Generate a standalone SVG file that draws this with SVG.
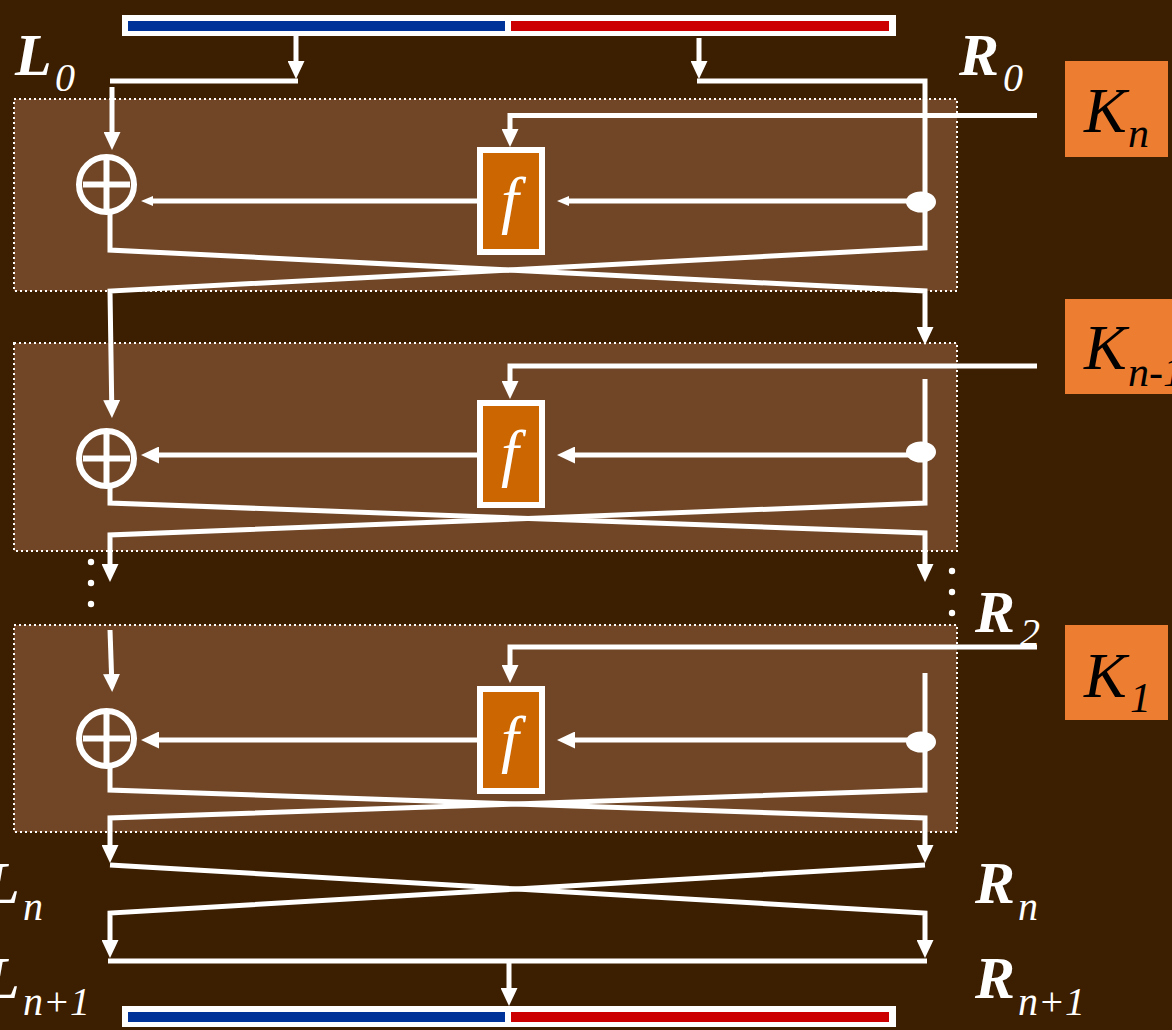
<svg xmlns="http://www.w3.org/2000/svg" width="1172" height="1030" viewBox="0 0 1172 1030">
<defs>
<style>
.bg{fill:#3C1E00}
.round{fill:#704626;stroke:#fff;stroke-width:2;stroke-dasharray:2 3}
.conn{fill:none;stroke:#fff;stroke-width:5;stroke-linejoin:miter}
.fbox{fill:#CC6600;stroke:#fff;stroke-width:6}
.ftxt{font-style:italic;font-size:64px;fill:#fff;text-anchor:middle}
.xor{fill:none;stroke:#fff;stroke-width:6}
.key{fill:#ED7D31}
.ktxt{font-style:italic;font-size:64px;fill:#000}
.ksub{font-style:italic;font-size:42px;fill:#000}
.lbl{font-style:italic;font-weight:bold;font-size:60px;fill:#fff}
.sub{font-style:italic;font-size:40px;fill:#fff}
.dot{fill:#fff}
</style>
<marker id="arr" viewBox="0 0 18 17" markerWidth="18" markerHeight="17" refX="8" refY="8.5" orient="auto" markerUnits="userSpaceOnUse"><path d="M0,0 L18,8.5 L0,17 z" fill="#fff"/></marker>
<marker id="arrs" viewBox="0 0 12 10" markerWidth="12" markerHeight="10" refX="4" refY="5" orient="auto" markerUnits="userSpaceOnUse"><path d="M0,0 L12,5 L0,10 z" fill="#fff"/></marker>
</defs>
<rect class="bg" x="0" y="0" width="1172" height="1030"/>

<g id="round1"><rect class="round" x="14" y="99" width="943" height="192"/></g>
<g id="round2"><rect class="round" x="14" y="343" width="943" height="208"/></g>
<g id="round3"><rect class="round" x="14" y="625" width="943" height="207"/></g>

<g id="input-bar">
<rect x="122" y="15" width="774" height="21" fill="#fff"/>
<rect x="128" y="21" width="377" height="10" fill="#003399"/>
<rect x="511" y="21" width="378" height="10" fill="#CC0000"/>
</g>
<g id="output-bar">
<rect x="122" y="1006" width="774" height="21" fill="#fff"/>
<rect x="128" y="1012" width="377" height="10" fill="#003399"/>
<rect x="511" y="1012" width="378" height="10" fill="#CC0000"/>
</g>

<g id="connectors">
<path class="conn" d="M296,36 V69" marker-end="url(#arr)"/>
<path class="conn" d="M699,38 V69" marker-end="url(#arr)"/>
<path class="conn" d="M110,81 H298"/>
<path class="conn" d="M697,81 H925 V248 L110,291 L111.8,408" marker-end="url(#arr)"/>
<path class="conn" d="M112,87 V140" marker-end="url(#arr)"/>
<path class="conn" d="M1037,115.5 H510 V137" marker-end="url(#arr)"/>
<path class="conn" d="M920,201 H565" marker-end="url(#arrs)"/>
<path class="conn" d="M477,201 H149" marker-end="url(#arrs)"/>
<path class="conn" d="M110,213 V250 L925,291 V335" marker-end="url(#arr)"/>

<path class="conn" d="M1037,366 H510 V389" marker-end="url(#arr)"/>
<path class="conn" d="M925,379 V503 L110,535 V572" marker-end="url(#arr)"/>
<path class="conn" d="M920,455 H567" marker-end="url(#arr)"/>
<path class="conn" d="M477,455 H151" marker-end="url(#arr)"/>
<path class="conn" d="M110,487 V503 L925,533 V572" marker-end="url(#arr)"/>

<path class="conn" d="M110,630 L111.8,682" marker-end="url(#arr)"/>
<path class="conn" d="M1037,647 H510 V673" marker-end="url(#arr)"/>
<path class="conn" d="M925,673 V790 L110,818 V853" marker-end="url(#arr)"/>
<path class="conn" d="M920,740 H567" marker-end="url(#arr)"/>
<path class="conn" d="M477,740 H151" marker-end="url(#arr)"/>
<path class="conn" d="M110,767 V790 L925,818 V853" marker-end="url(#arr)"/>

<path class="conn" d="M110,865 L925,913 V948" marker-end="url(#arr)"/>
<path class="conn" d="M925,865 L110,913 V948" marker-end="url(#arr)"/>
<path class="conn" d="M108,961 H927"/>
<path class="conn" d="M509,961 V996" marker-end="url(#arr)"/>
</g>

<g id="split1"><ellipse class="dot" cx="921" cy="202" rx="15" ry="10.5"/></g>
<g id="split2"><ellipse class="dot" cx="921" cy="452" rx="15" ry="10.5"/></g>
<g id="split3"><ellipse class="dot" cx="921" cy="742" rx="15" ry="10.5"/></g>

<g id="xor1"><circle class="xor" cx="106.5" cy="184.5" r="27.5"/><path class="xor" d="M83,184.5 H130 M106.5,158 V211"/></g>
<g id="xor2"><circle class="xor" cx="106.5" cy="458.5" r="27.5"/><path class="xor" d="M83,458.5 H130 M106.5,432 V485"/></g>
<g id="xor3"><circle class="xor" cx="106.5" cy="738.5" r="27.5"/><path class="xor" d="M83,738.5 H130 M106.5,712 V765"/></g>

<g font-family="Liberation Serif, serif">
<g id="f1"><rect class="fbox" x="480" y="150" width="62" height="102"/><text class="ftxt" x="510" y="221">f</text></g>
<g id="f2"><rect class="fbox" x="480" y="403" width="62" height="102"/><text class="ftxt" x="510" y="474">f</text></g>
<g id="f3"><rect class="fbox" x="480" y="689" width="62" height="102"/><text class="ftxt" x="510" y="760">f</text></g>

<g id="key-n"><rect class="key" x="1065" y="61" width="103" height="96"/><text class="ktxt" x="1084" y="132">K</text><text class="ksub" x="1128" y="147">n</text></g>
<g id="key-n-1"><rect class="key" x="1065" y="299" width="120" height="95"/><text class="ktxt" x="1084" y="369">K</text><text class="ksub" x="1128" y="386">n-1</text></g>
<g id="key-1"><rect class="key" x="1065" y="625" width="103" height="95"/><text class="ktxt" x="1084" y="697">K</text><text class="ksub" x="1130" y="712">1</text></g>

<g id="labels">
<text class="lbl" x="15" y="75">L</text><text class="sub" x="55" y="91">0</text>
<text class="lbl" x="959" y="75">R</text><text class="sub" x="1003" y="91">0</text>
<text class="lbl" x="975" y="632">R</text><text class="sub" x="1020" y="646">2</text>
<text class="lbl" x="-17" y="903">L</text><text class="sub" x="23" y="920">n</text>
<text class="lbl" x="975" y="903">R</text><text class="sub" x="1018" y="920">n</text>
<text class="lbl" x="-17" y="998">L</text><text class="sub" x="23" y="1015">n+1</text>
<text class="lbl" x="975" y="998">R</text><text class="sub" x="1018" y="1015">n+1</text>
</g>
</g>

<g id="dots-left"><circle class="dot" cx="91" cy="562" r="3.2"/><circle class="dot" cx="91" cy="583" r="3.2"/><circle class="dot" cx="91" cy="604" r="3.2"/></g>
<g id="dots-right"><circle class="dot" cx="952" cy="571" r="3.2"/><circle class="dot" cx="952" cy="592" r="3.2"/><circle class="dot" cx="952" cy="613" r="3.2"/></g>
</svg>
